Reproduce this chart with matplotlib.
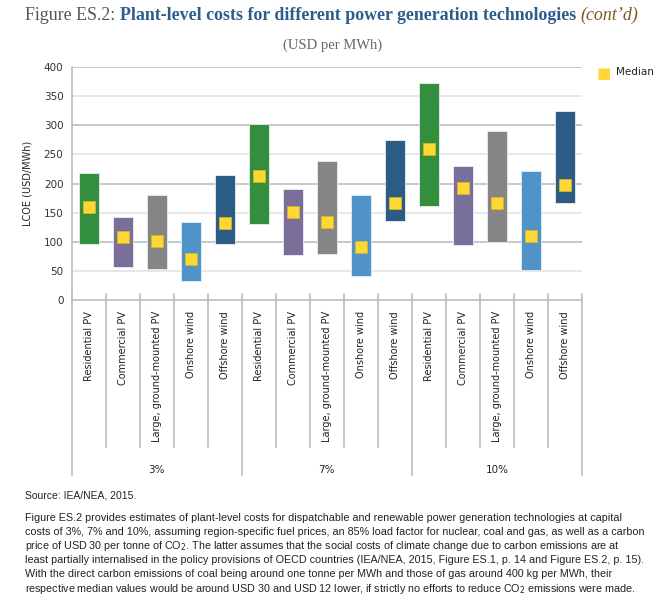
import numpy as np
import matplotlib.pyplot as plt
from matplotlib.transforms import blended_transform_factory

# LCOE ranges (USD/MWh)
technologies = ['Residential PV', 'Commercial PV', 'Large, ground-mounted PV',
                'Onshore wind', 'Offshore wind']
rates = ['3%', '7%', '10%']
low = [96, 57, 53, 33, 97,
       131, 78, 79, 41, 135,
       162, 94, 100, 51, 166]
high = [218, 142, 180, 134, 214,
        302, 190, 238, 181, 274,
        372, 230, 290, 222, 325]
median = [159, 108, 101, 71, 132,
          213, 151, 134, 92, 167,
          260, 193, 166, 110, 198]

tech_colors = ['#338f3e', '#7a6f9b', '#858585', '#4f93c9', '#2c5b83']

labels = technologies * len(rates)
colors = tech_colors * len(rates)
x = np.arange(len(labels))

fig = plt.figure(figsize=(6.65, 5.99), dpi=100)
ax = fig.add_axes([0.108, 0.499, 0.767, 0.389])

# grid
for v in [100, 200, 300, 400]:
    ax.axhline(v, color='#bdbdbd', lw=1.2, zorder=0)
for v in [50, 150, 250, 350]:
    ax.axhline(v, color='#e3e3e3', lw=1.2, zorder=0)

heights = np.array(high) - np.array(low)
ax.bar(x, heights, bottom=low, width=0.58, color=colors,
       edgecolor='#e8eef4', linewidth=0.6, zorder=2)
ax.scatter(x, median, marker='s', s=75, color='#fdd835',
           edgecolor='#e0b820', linewidth=0.5, zorder=3)

ax.set_xlim(-0.5, len(labels) - 0.5)
ax.set_ylim(0, 400)
ax.set_yticks(range(0, 401, 50))
ax.tick_params(axis='y', length=0, labelsize=7.5, labelcolor='#333333', pad=6)
ax.set_xticks(x)
ax.set_xticklabels(labels, rotation=90, fontsize=7, color='#222222')
ax.tick_params(axis='x', length=0, pad=8)
for s in ['top', 'right']:
    ax.spines[s].set_visible(False)
ax.spines['left'].set_color('#bdbdbd')
ax.spines['bottom'].set_color('#bdbdbd')
ax.spines['left'].set_linewidth(1.2)
ax.spines['bottom'].set_linewidth(1.2)
ax.set_ylabel('LCOE (USD/MWh)', fontsize=7, color='#222222', labelpad=8)

# category separators and group separators below the axis
tr = blended_transform_factory(ax.transData, ax.transAxes)
n = len(technologies)
for i in range(len(labels) + 1):
    b = i - 0.5
    end = -0.75 if i % n == 0 else -0.63
    ax.plot([b, b], [0.025, end], transform=tr, color='#bdbdbd',
            lw=1.2, clip_on=False)
for g, r in enumerate(rates):
    ax.text(g * n + (n - 1) / 2, -0.73, r, transform=tr, ha='center',
            va='center', fontsize=7.5, color='#222222')

# legend
fig.text(0.908, 0.877, '\u25A0', color='#fdd835', fontsize=11, ha='center', va='center')
fig.text(0.927, 0.879, 'Median', fontsize=7.5, color='#222222', va='center')

fig.canvas.draw()
renderer = fig.canvas.get_renderer()
W = fig.bbox.width

# title, three parts side by side, sized to span the same width as the reference
serif = 'Liberation Serif'
title_parts = [('Figure ES.2: ', '#555555', 'normal', 'normal'),
               ('Plant-level costs for different power generation technologies ',
                '#2e5d8a', 'bold', 'normal'),
               ('(cont\u2019d)', '#7a5a20', 'normal', 'italic')]


def draw_title(size):
    xpos = 25
    arts = []
    for txt, col, wt, st in title_parts:
        t = fig.text(xpos / W, 0.974, txt, fontsize=size, family=serif,
                     color=col, weight=wt, style=st, va='center')
        xpos = t.get_window_extent(renderer).x1
        arts.append(t)
    return arts, xpos


arts, right = draw_title(10)
for a in arts:
    a.remove()
draw_title(10 * (640 - 25) / (right - 25))

fig.text(0.5, 0.924, '(USD per MWh)', fontsize=10.5, family=serif,
         color='#666666', ha='center', va='center')

# source and note
foot = 'Liberation Sans'
fig.text(0.038, 0.172, 'Source: IEA/NEA, 2015.', fontsize=7.5, family=foot,
         color='#222222', va='center')
note = [
    'Figure ES.2 provides estimates of plant-level costs for dispatchable and renewable power generation technologies at capital',
    'costs of 3%, 7% and 10%, assuming region-specific fuel prices, an 85% load factor for nuclear, coal and gas, as well as a carbon',
    'price of USD 30 per tonne of CO$_2$. The latter assumes that the social costs of climate change due to carbon emissions are at',
    'least partially internalised in the policy provisions of OECD countries (IEA/NEA, 2015, Figure ES.1, p. 14 and Figure ES.2, p. 15).',
    'With the direct carbon emissions of coal being around one tonne per MWh and those of gas around 400 kg per MWh, their',
    'respective median values would be around USD 30 and USD 12 lower, if strictly no efforts to reduce CO$_2$ emissions were made.',
]
probe = [fig.text(0, 0, line, fontsize=7.5, family=foot) for line in note]
widest = max(p.get_window_extent(renderer).width for p in probe)
for p in probe:
    p.remove()
note_size = 7.5 * 615 / widest
for k, line in enumerate(note):
    fig.text(0.038, 0.135 - k * 0.0235, line, fontsize=note_size, family=foot,
             color='#222222', va='center')

fig.savefig('out.png', dpi=100)
